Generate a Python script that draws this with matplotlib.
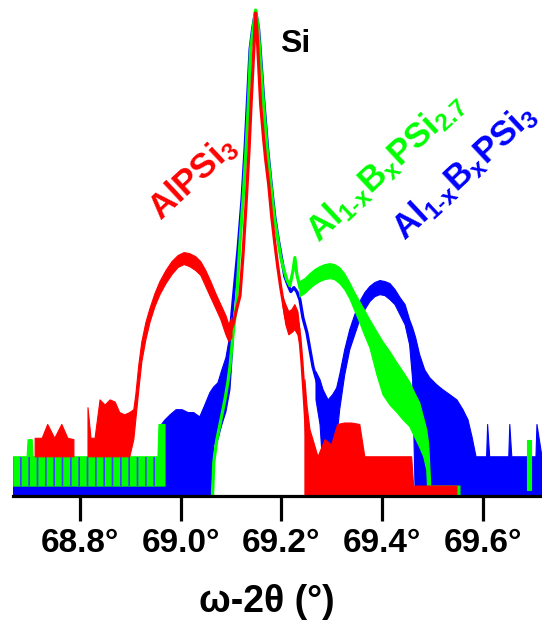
import numpy as np
import matplotlib
matplotlib.use('Agg')
import matplotlib.pyplot as plt
from matplotlib.ticker import FixedLocator, NullLocator

# ---------------------------------------------------------------------------
# Data (omega-2theta in degrees, intensity in counts, log scale)
# band = noisy spread (lo..hi), trace = narrow part of the curve
# 0.5 counts = zero counts (clipped under the axis)
# ---------------------------------------------------------------------------
nan = np.nan

# AlPSi3 (red)
red_x = [68.711, 68.725, 68.736, 68.750, 68.764, 68.776, 68.788, nan,
         68.816, 68.822, 68.830, 68.840, 68.850, 68.860, 68.870, 68.879, 68.889, 68.899, 68.907,
         68.911, 68.917, 68.923, 68.931, 68.939, 68.949, 68.959, 68.971, 68.983, 68.995,
         69.007, 69.018, 69.030, 69.040, 69.050, 69.060, 69.070, 69.080, 69.090, 69.096, 69.102, nan,
         69.203, 69.209, 69.215, 69.221, 69.227, 69.233, 69.237, nan,
         69.247, 69.251, 69.257, 69.263, 69.273, 69.287, 69.300, 69.312, 69.326, 69.340,
         69.356, 69.366, 69.396, 69.436, 69.459, 69.463, 69.549]
red_hi = [3.1, 3.1, 4.3, 3.1, 4.3, 3.1, 3.0, nan,
          6.4, 3.1, 3.1, 7.7, 6.8, 7.7, 7.3, 5.7, 5.4, 5.7, 6.1,
          8.7, 17.7, 30.5, 48, 66.8, 95.4, 127, 165, 204, 235,
          252, 246, 229, 204, 165, 127, 95.4, 73.5, 56.6, 45.7, 54, nan,
          88.8, 73.5, 62.2, 65.2, 73.5, 62.2, 40.6, nan,
          12.4, 6.8, 3.8, 3.0, 2.0, 3.0, 2.65, 4.3, 4.45, 4.45,
          4.3, 2.0, 2.0, 2.0, 2.0, 1.0, 1.0]
red_lo = [2.0, 2.0, 2.0, 2.0, 2.0, 2.0, 2.0, nan,
          2.0, 2.0, 2.0, 2.0, 2.0, 2.0, 2.0, 2.0, 2.0, 2.0, 3.0,
          4.8, 9.8, 19.0, 32, 47.9, 70, 93.1, 121, 150, 177,
          190, 181, 165, 147, 113, 86.7, 67, 51.4, 36, 30.5, 33.6, nan,
          73.5, 45.7, 36, 37.8, 40.6, 36, 28.4, nan,
          0.5, 0.5, 0.5, 0.5, 0.5, 0.5, 0.5, 0.5, 0.5, 0.5,
          0.5, 0.5, 0.5, 0.5, 0.5, 0.5, 0.5]
red_tx = [69.096, 69.104, 69.112, 69.118, 69.124, 69.130, 69.136, 69.140, 69.144, 69.147,
          69.149, 69.152, 69.155, 69.159, 69.165, 69.169, 69.175, 69.181, 69.187, 69.193,
          69.199, 69.203, 69.209, 69.215, 69.221, 69.227, 69.233, 69.237, 69.241, 69.245,
          69.249, 69.253]
red_ty = [36.0, 45.7, 68.4, 91.0, 241, 788, 2910, 8470, 21900, 44600,
          73400, 44600, 21900, 8470, 3690, 2290, 1270, 593, 320, 181,
          110, 82.7, 53.9, 44.6, 49.1, 55.2, 46.8, 33.6, 19.0, 9.3,
          4.25, 2.0]

# Al1-xBxPSi2.7 (green)
green_x = [68.667, 68.695, 68.697, 68.705, 68.707, 68.772, 68.774, 68.784, 68.786, 68.824,
           68.826, 68.834, 68.836, 68.864, 68.866, 68.873, 68.875, 68.955, 68.957, 68.969, nan,
           69.237, 69.247, 69.257, 69.267, 69.277, 69.287, 69.297, 69.306, 69.316, 69.326,
           69.336, 69.346, 69.356, 69.366, 69.376, 69.390, 69.402, 69.416, 69.430, 69.442,
           69.455, 69.465, 69.475, 69.483, 69.489, 69.493, 69.497, 69.555, nan,
           69.688, 69.696]
green_hi = [2.0, 2.0, 3.0, 3.0, 2.0, 2.0, 3.0, 3.0, 2.0, 2.0,
            3.0, 3.0, 2.0, 2.0, 3.0, 3.0, 2.0, 2.0, 4.3, 4.3, nan,
            127, 136, 153, 169, 181, 190, 194, 190, 177, 153,
            124, 97.7, 78.9, 63.7, 51.4, 38.7, 30.5, 24.1, 18.5, 15.0,
            11.8, 9.1, 7.2, 5.0, 3.8, 2.65, 1.0, 1.0, nan,
            3.0, 3.0]
green_lo = [1.0, 1.0, 1.0, 1.0, 1.0, 1.0, 1.0, 1.0, 1.0, 1.0,
            1.0, 1.0, 1.0, 1.0, 1.0, 1.0, 1.0, 1.0, 1.0, 1.0, nan,
            88.8, 95.4, 107, 118, 127, 133, 136, 133, 121, 105,
            84.7, 63.7, 47.9, 35.2, 26.5, 13.9, 8.7, 6.8, 5.7, 4.8,
            4.1, 3.2, 2.5, 2.0, 1.46, 0.5, 0.5, 0.5, nan,
            0.9, 0.9]
green_tx = [69.062, 69.066, 69.072, 69.080, 69.088, 69.094, 69.098, 69.104, 69.111, 69.117,
            69.124, 69.130, 69.135, 69.139, 69.144, 69.149, 69.154, 69.157, 69.164, 69.172,
            69.186, 69.199, 69.205, 69.211, 69.217, 69.223, 69.227, 69.231, 69.237]
green_ty = [0.5, 1.77, 3.0, 4.8, 7.7, 11.8, 16.9, 35.2, 77.1, 271,
            888, 2910, 9540, 31200, 50200, 78900, 52700, 31200, 9540, 2910,
            593, 224, 169, 133, 115, 161, 224, 150, 110]

# Al1-xBxPSi3 (blue)
blue_x = [68.667, 68.955, 68.959, 68.969, 68.979, 68.991, 69.003, 69.015, 69.026, 69.038,
          69.048, 69.058, 69.062, 69.066, 69.074, 69.082, 69.090, 69.098, 69.104, nan,
          69.269, 69.277, 69.283, 69.293, 69.302, 69.310, 69.316, 69.326, 69.336, 69.346,
          69.356, 69.366, 69.376, 69.386, 69.396, 69.406, 69.416, 69.426, 69.436, 69.446,
          69.455, 69.461, 69.467, 69.475, 69.485, 69.495, 69.509, 69.521, 69.535, 69.549,
          69.561, 69.571, 69.579, 69.587, 69.608, 69.610, 69.614, 69.652, 69.654, 69.658,
          69.706, 69.708, 69.718]
blue_hi = [1.0, 1.0, 4.1, 4.8, 5.4, 6.1, 6.1, 5.7, 5.7, 5.15,
           6.8, 9.1, 9.8, 10.5, 11.5, 15.7, 20.9, 36.0, 53.9, nan,
           15.0, 12.4, 9.8, 7.7, 8.7, 10.2, 13.9, 25.2, 40.6, 57.9,
           78.9, 97.7, 113, 124, 130, 127, 121, 105, 86.7, 73.5,
           51.4, 42.5, 33.6, 22.4, 15.7, 13.0, 11.0, 9.8, 8.7, 7.7,
           6.1, 4.8, 3.2, 2.0, 2.0, 4.3, 2.0, 2.0, 4.3, 2.0,
           2.0, 4.3, 2.0]
blue_lo = [0.5, 0.5, 0.5, 0.5, 0.5, 0.5, 0.5, 0.5, 0.5, 0.5,
           0.5, 0.5, 1.46, 2.65, 3.0, 4.3, 5.8, 9.8, 28.4, nan,
           7.7, 4.3, 1.46, 0.91, 1.15, 3.0, 6.1, 13.9, 25.2, 36.0,
           51.4, 65.2, 78.9, 88.8, 93.1, 91.0, 82.7, 73.5, 57.9, 45.7,
           28.4, 12.4, 0.5, 0.5, 0.5, 0.5, 0.5, 0.5, 0.5, 0.5,
           0.5, 0.5, 0.5, 0.5, 0.5, 0.5, 0.5, 0.5, 0.5, 0.5,
           0.5, 0.5, 0.5]
blue_tx = [69.100, 69.104, 69.114, 69.122, 69.128, 69.133, 69.138, 69.143, 69.149, 69.155,
           69.158, 69.165, 69.173, 69.180, 69.187, 69.194, 69.201, 69.207, 69.213, 69.219,
           69.225, 69.231, 69.237, 69.243, 69.251, 69.257, 69.263, 69.273]
blue_ty = [45.7, 77.1, 271, 888, 2910, 9540, 31200, 50200, 77100, 50200,
           31200, 9540, 2910, 1270, 593, 344, 214, 143, 118, 100,
           110, 100, 82.7, 53.9, 37.8, 25.2, 16.9, 11.0]
# sparse blue counts (1-2) mixed into the green noise floor
blue_sx = [68.667, 68.955]
blue_shi = [2.0, 2.0]

tick_pos = [68.8, 69.0, 69.2, 69.4, 69.6]
tick_lbl = ['68.8°', '69.0°', '69.2°', '69.4°', '69.6°']

# ---------------------------------------------------------------------------
# Style
# ---------------------------------------------------------------------------
plt.rcParams['font.family'] = ['Liberation Sans', 'DejaVu Sans']
plt.rcParams['font.weight'] = 'bold'
plt.rcParams['mathtext.fontset'] = 'custom'
plt.rcParams['mathtext.rm'] = 'Liberation Sans:bold'
plt.rcParams['mathtext.it'] = 'Liberation Sans:bold'
plt.rcParams['mathtext.bf'] = 'Liberation Sans:bold'
plt.rcParams['mathtext.default'] = 'rm'
plt.rcParams['hatch.linewidth'] = 1.2

RED, GREEN, BLUE = '#ff0000', '#00ff00', '#0000ff'

fig = plt.figure(figsize=(5.42, 6.22), dpi=100)
ax = fig.add_axes([13 / 542, 126 / 622, 529 / 542, 496 / 622])

# blue below, green in the middle, red on top
series = [
    (blue_x, blue_lo, blue_hi, blue_tx, blue_ty, BLUE, 2),
    (green_x, green_lo, green_hi, green_tx, green_ty, GREEN, 3),
    (red_x, red_lo, red_hi, red_tx, red_ty, RED, 4),
]
for bx, blo, bhi, tx, ty, col, z in series:
    ax.fill_between(bx, blo, bhi, color=col, linewidth=0.8, edgecolor=col, zorder=z)
    ax.plot(tx, ty, color=col, linewidth=2.3, zorder=z)

ax.fill_between(blue_sx, 1.0, blue_shi, facecolor='none', edgecolor='#4040ff',
                hatch='||', linewidth=0, zorder=3.5)

ax.set_yscale('log')
ax.set_xlim(68.667, 69.718)
ax.set_ylim(0.79, 1.0e5)

for s in ['left', 'right', 'top']:
    ax.spines[s].set_visible(False)
ax.spines['bottom'].set_linewidth(2.3)
ax.spines['bottom'].set_zorder(6)
ax.yaxis.set_major_locator(NullLocator())
ax.yaxis.set_minor_locator(NullLocator())
ax.xaxis.set_major_locator(FixedLocator(tick_pos))
ax.set_xticklabels(tick_lbl)
ax.tick_params(axis='x', length=18, width=2.3, pad=5, labelsize=24)
ax.set_xlabel('ω-2θ (°)', fontsize=27, fontweight='bold')
ax.xaxis.set_label_coords(0.48, -0.177)

# labels
ax.text(69.227, 35200, 'Si', color='black', fontsize=23, ha='center', va='center')
ax.text(68.961, 527, 'AlPSi$_3$', color=RED, fontsize=25, rotation=43,
        ha='left', va='baseline', rotation_mode='anchor')
ax.text(69.275, 310, 'Al$_{1\\text{-}x}$B$_x$PSi$_{2.7}$', color=GREEN, fontsize=25,
        rotation=43, ha='left', va='baseline', rotation_mode='anchor')
ax.text(69.446, 330, 'Al$_{1\\text{-}x}$B$_x$PSi$_3$', color=BLUE, fontsize=25,
        rotation=43, ha='left', va='baseline', rotation_mode='anchor')

fig.savefig('out.png', dpi=100)
